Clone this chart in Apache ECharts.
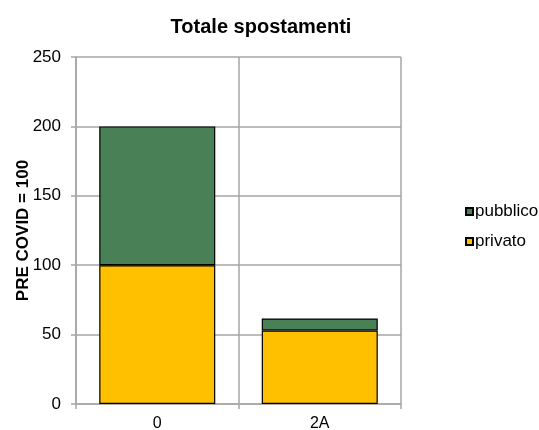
<!DOCTYPE html>
<html>
<head>
<meta charset="utf-8">
<script src="https://cdn.jsdelivr.net/npm/echarts@6/dist/echarts.min.js"></script>
<style>
  html, body { margin: 0; padding: 0; background: #ffffff; }
  #chart { width: 539px; height: 430px; }
</style>
</head>
<body>
<div id="chart"></div>
<script>
// Categories and stacked values (index PRE COVID = 100)
const categories = ['0', '2A'];
const privato = [100, 53];
const pubblico = [100, 8.6];
const yTicks = { min: 0, max: 250, interval: 50 };

const FONT = 'Liberation Sans, Arial, sans-serif';
const GRID_COLOR = '#a6a6a6';

const chart = echarts.init(document.getElementById('chart'), null, { renderer: 'canvas' });

chart.setOption({
  backgroundColor: '#ffffff',
  animation: false,
  title: {
    text: 'Totale spostamenti',
    left: 256,
    top: 12,
    textAlign: 'center',
    textStyle: { fontFamily: FONT, fontSize: 20, fontWeight: 'bold', color: '#000000' }
  },
  legend: {
    orient: 'vertical',
    left: 460,
    top: 198,
    itemWidth: 7,
    itemHeight: 7,
    itemGap: 13,
    icon: 'rect',
    data: ['pubblico', 'privato'],
    textStyle: { fontFamily: FONT, fontSize: 17, color: '#000000', padding: [0, 0, 0, -3] }
  },
  grid: {
    left: 76, right: 138, top: 57, bottom: 26,
    containLabel: false,
    outerBoundsMode: 'none'
  },
  xAxis: {
    type: 'category',
    data: categories,
    axisLine: { show: true, lineStyle: { color: GRID_COLOR, width: 1.5 } },
    axisTick: { show: true, length: 5, lineStyle: { color: GRID_COLOR, width: 1.5 } },
    splitLine: { show: true, lineStyle: { color: GRID_COLOR, width: 1.5 } },
    axisLabel: { fontFamily: FONT, fontSize: 16, color: '#000000', margin: 12 }
  },
  yAxis: {
    type: 'value',
    min: yTicks.min,
    max: yTicks.max,
    interval: yTicks.interval,
    name: 'PRE COVID = 100',
    nameLocation: 'middle',
    nameRotate: 90,
    nameGap: 44,
    nameMoveOverlap: false,
    nameTextStyle: { fontFamily: FONT, fontSize: 17, fontWeight: 'bold', color: '#000000' },
    axisLine: { show: true, lineStyle: { color: GRID_COLOR, width: 1.5 } },
    axisTick: { show: true, length: 5, lineStyle: { color: GRID_COLOR, width: 1.5 } },
    splitLine: { show: true, lineStyle: { color: GRID_COLOR, width: 1.5 } },
    axisLabel: { fontFamily: FONT, fontSize: 17, color: '#000000', margin: 15 }
  },
  series: [
    {
      name: 'privato',
      type: 'bar',
      stack: 'tot',
      data: privato,
      barCategoryGap: '28.6%',
      itemStyle: { color: '#ffc000', borderColor: '#000000', borderWidth: 1.2 }
    },
    {
      name: 'pubblico',
      type: 'bar',
      stack: 'tot',
      data: pubblico,
      barCategoryGap: '28.6%',
      itemStyle: { color: '#4a8055', borderColor: '#000000', borderWidth: 1.2 }
    }
  ]
});
</script>
</body>
</html>
